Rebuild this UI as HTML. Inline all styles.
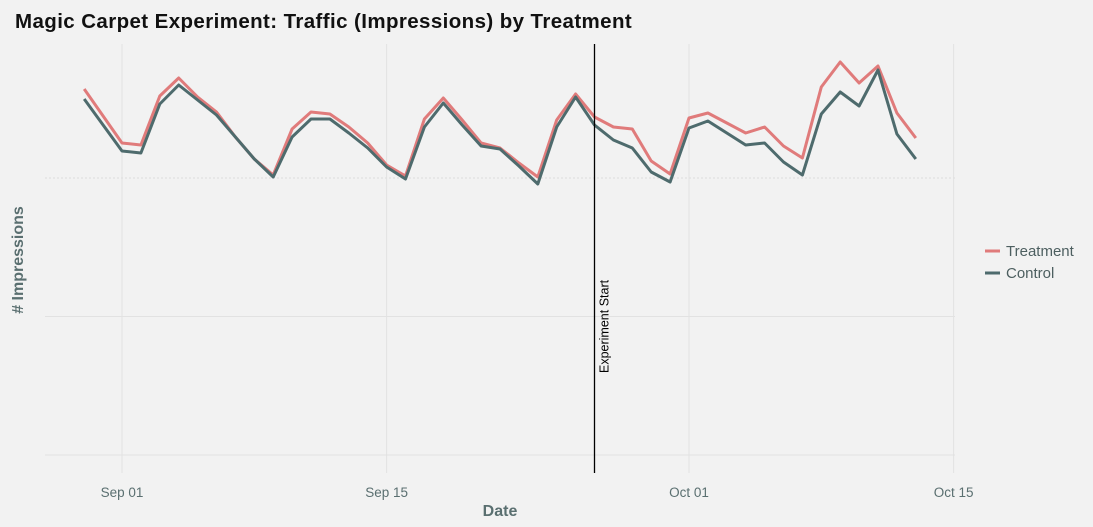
<!DOCTYPE html>
<html><head><meta charset="utf-8"><style>
body{margin:0;background:#f2f2f2;}
svg{display:block;font-family:"Liberation Sans",sans-serif;}
</style></head><body>
<svg id="chart" width="1093" height="527">
<rect width="1093" height="527" fill="#f2f2f2"/>
<text x="15" y="28" font-size="20.5" font-weight="bold" letter-spacing="0.4" fill="#111">Magic Carpet Experiment: Traffic (Impressions) by Treatment</text>
<g id="grid"></g>
<g id="series"></g>
<g id="xticks"></g>
<text x="500" y="516" font-size="16" font-weight="600" fill="#5a6f70" text-anchor="middle">Date</text>
<text transform="translate(23,260) rotate(-90)" font-size="16" font-weight="600" fill="#5a6f70" text-anchor="middle"># Impressions</text>
<g>
<line x1="985" y1="251" x2="1000" y2="251" stroke="#e07b7b" stroke-width="3"/>
<text x="1006" y="256" font-size="15" fill="#4d5f60">Treatment</text>
<line x1="985" y1="273" x2="1000" y2="273" stroke="#4e6b6d" stroke-width="3"/>
<text x="1006" y="278" font-size="15" fill="#4d5f60">Control</text>
</g>
</svg>
<script>
const dayOffsets=[-2,0,1,2,3,4,5,6,7,8,9,10,11,12,13,14,15,16,17,18,19,20,21,22,23,24,25,26,27,28,29,30,31,32,33,34,35,36,37,38,39,40,41,42];
const treatment=[366,312,310,359,377,358,343,318,296,280,326,343,341,328,312,290,279,336,357,335,312,307,292,278,335,361,338,328,326,294,281,337,342,332,322,328,309,297,368,393,372,389,342,317];
const control=[356,304,302,351,370,355,340,318,296,278,318,336,336,322,307,288,276,328,352,330,309,306,289,271,328,358,330,315,307,283,273,327,334,322,310,312,293,280,341,363,349,385,321,296];
const xTickDays=[0,14,30,44];
const xTickLabels=["Sep 01","Sep 15","Oct 01","Oct 15"];
const yGrid=[0,138.5,277];
const experimentDay=25;
const NS="http://www.w3.org/2000/svg";
const xs=d=>122+d*18.9;
const ys=v=>455-v;
function mk(tag,attrs,parent){const e=document.createElementNS(NS,tag);for(const k in attrs)e.setAttribute(k,attrs[k]);parent.appendChild(e);return e;}
const grid=document.getElementById('grid');
yGrid.forEach((v,i)=>{const l=mk('line',{x1:45,x2:955,y1:ys(v),y2:ys(v),stroke:i==2?'#dcdcdc':'#e2e2e2','stroke-width':1,'stroke-dasharray':i==2?'2,2':'none'},grid);

});
const xt=document.getElementById('xticks');
xTickDays.forEach((d,i)=>{const l=mk('line',{x1:xs(d),x2:xs(d),y1:44,y2:473,stroke:'#e2e2e2','stroke-width':1},grid);


const t=mk('text',{x:xs(d),y:497,'font-size':13.5,fill:'#5a6f70','text-anchor':'middle'},xt);
t.textContent=xTickLabels[i];

});
const s=document.getElementById('series');
function line(vals,color,name){const pts=vals.map((v,i)=>xs(dayOffsets[i]).toFixed(1)+','+ys(v)).join(' ');
const p=mk('polyline',{points:pts,fill:'none',stroke:color,'stroke-width':3,'stroke-linejoin':'round'},s);

}
line(treatment,'#e07b7b','treatment-line');
line(control,'#4e6b6d','control-line');
const ex=xs(experimentDay);
const el=mk('line',{x1:ex,x2:ex,y1:44,y2:473,stroke:'#000','stroke-width':1.3},s);


const et=mk('text',{transform:`translate(${ex+14},373) rotate(-90)`,'font-size':12.5,fill:'#000'},s);
et.textContent='Experiment Start';


</script>
</body></html>
